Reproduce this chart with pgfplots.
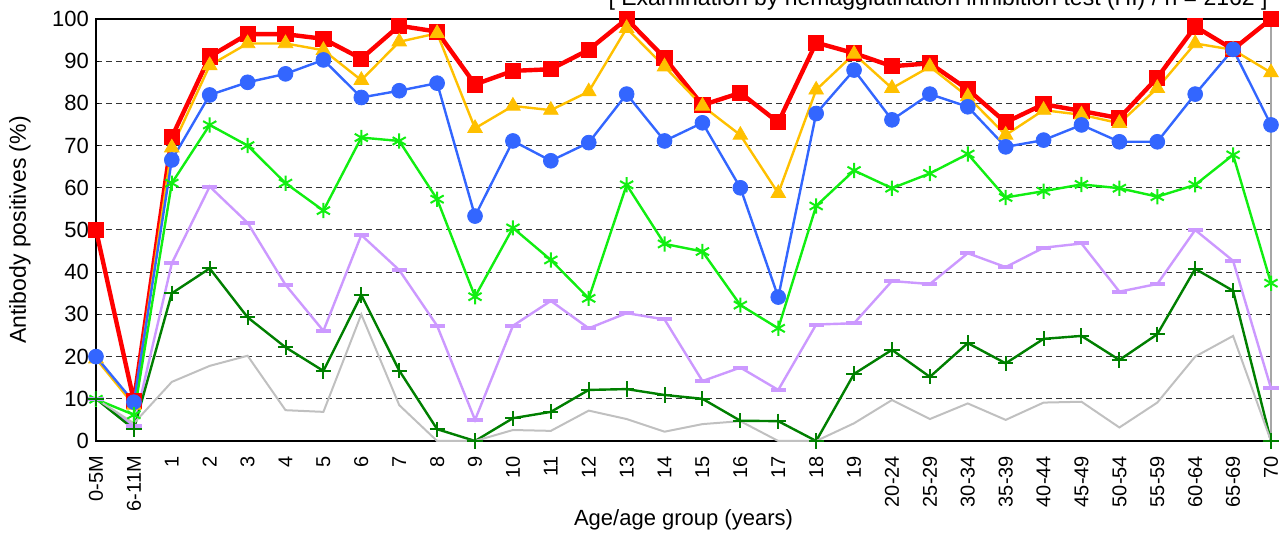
\documentclass[border=0pt]{standalone}
\usepackage{fontspec}
\setmainfont{Liberation Sans}
\usepackage{pgfplots}
\pgfplotsset{compat=1.18}
\definecolor{cRed}{HTML}{FF0000}
\definecolor{cYel}{HTML}{FFC000}
\definecolor{cBlue}{HTML}{3366FF}
\definecolor{cGreen}{HTML}{11EE11}
\definecolor{cLav}{HTML}{CC99FF}
\definecolor{cDark}{HTML}{007F00}
\definecolor{cGrey}{HTML}{C0C0C0}
\begin{document}
\begin{tikzpicture}
\begin{axis}[name=ax, at={(0,0)}, anchor=south west,
  width=587.5pt, height=211pt, scale only axis,
  xmin=0, xmax=31, ymin=0, ymax=100, clip=false,
  xtick={0,...,31},
  xticklabels={0-5M,6-11M,1,2,3,4,5,6,7,8,9,10,11,12,13,14,15,16,17,18,19,20-24,25-29,30-34,35-39,40-44,45-49,50-54,55-59,60-64,65-69,70},
  ytick={0,10,...,100},
  /pgf/number format/assume math mode=true,
  ymajorgrids,
  grid style={black!80, line width=0.5pt, dash pattern=on 3pt off 2pt},
  axis line style={black, line width=0.8pt},
  x tick label style={rotate=90, anchor=east, font=\fontsize{10}{12}\selectfont},
  xticklabel shift=4pt,
  y tick label style={font=\fontsize{11}{13}\selectfont},
  xtick style={draw=none},
  ytick style={black, line width=0.5pt},
  tick align=inside, major tick length=1.5pt,
]
\draw[gray!70, line width=0.8pt] (rel axis cs:1,0) -- (rel axis cs:1,1);
% red
\addplot[cRed, line width=2.2pt, mark=square*, mark size=3.8pt, mark options={solid, line width=0.5pt}] coordinates {
(0,50) (1,9.5) (2,72) (3,91.1) (4,96.4) (5,96.4) (6,95.3) (7,90.6) (8,98.4) (9,97) (10,84.5) (11,87.7) (12,88.1) (13,92.7) (14,100) (15,90.8) (16,79.6) (17,82.5) (18,75.5) (19,94.4) (20,91.9) (21,88.8) (22,89.5) (23,83.3) (24,75.5) (25,79.8) (26,78.2) (27,76.5) (28,86.1) (29,98.2) (30,92.8) (31,100)};
% yellow
\addplot[cYel, line width=1.2pt, mark=triangle*, mark size=4.2pt, mark options={solid, line width=0.4pt}] coordinates {
(0,19.5) (1,8.5) (2,69.5) (3,89) (4,94.2) (5,94.2) (6,92.6) (7,85.5) (8,94.6) (9,96.6) (10,74.1) (11,79.4) (12,78.4) (13,82.8) (14,97.8) (15,88.7) (16,79.4) (17,72.5) (18,58.7) (19,83.2) (20,91.7) (21,83.6) (22,88.7) (23,81.6) (24,72.5) (25,78.4) (26,77.3) (27,75.3) (28,83.6) (29,94.2) (30,92.7) (31,87.3)};
% blue
\addplot[cBlue, line width=1.2pt, mark=*, mark size=3.7pt, mark options={solid, line width=0.4pt}] coordinates {
(0,20) (1,9.2) (2,66.6) (3,82) (4,85) (5,87) (6,90.3) (7,81.4) (8,83) (9,84.8) (10,53.3) (11,71.1) (12,66.4) (13,70.7) (14,82.2) (15,71.1) (16,75.4) (17,60) (18,34.1) (19,77.6) (20,87.9) (21,76.1) (22,82.2) (23,79.2) (24,69.7) (25,71.3) (26,74.9) (27,70.9) (28,70.9) (29,82.2) (30,92.8) (31,74.9)};
% bright green
\addplot[cGreen, line width=1.2pt, mark=asterisk, mark size=3.8pt, mark options={solid, line width=1pt}] coordinates {
(0,9.9) (1,6.2) (2,61.1) (3,74.9) (4,70) (5,61.1) (6,54.6) (7,71.9) (8,71.1) (9,57.3) (10,34.2) (11,50.5) (12,42.9) (13,33.8) (14,60.7) (15,46.7) (16,44.9) (17,32.2) (18,26.7) (19,55.7) (20,64.1) (21,59.9) (22,63.4) (23,68) (24,57.7) (25,59.2) (26,60.8) (27,59.9) (28,57.9) (29,60.7) (30,67.8) (31,37.4)};
% lavender
\addplot[cLav, line width=1.2pt, mark=-, mark size=3.8pt, mark options={solid, line width=2pt}] coordinates {
(0,10) (1,3.5) (2,42.1) (3,60.3) (4,51.7) (5,37) (6,26.1) (7,48.8) (8,40.5) (9,27.3) (10,5) (11,27.3) (12,33.2) (13,26.7) (14,30.3) (15,28.8) (16,14.2) (17,17.4) (18,12.1) (19,27.6) (20,27.9) (21,37.9) (22,37.2) (23,44.5) (24,41.2) (25,45.8) (26,46.8) (27,35.4) (28,37.2) (29,50) (30,42.7) (31,12.5)};
% dark green
\addplot[cDark, line width=1.2pt, mark=+, mark size=3.8pt, mark options={solid, line width=1pt}] coordinates {
(0,10) (1,2.8) (2,35) (3,40.9) (4,29.3) (5,22.2) (6,16.6) (7,34.6) (8,16.7) (9,2.8) (10,0) (11,5.4) (12,6.9) (13,12.1) (14,12.3) (15,10.9) (16,10) (17,4.8) (18,4.7) (19,0) (20,15.9) (21,21.6) (22,15.2) (23,23.2) (24,18.4) (25,24.2) (26,24.9) (27,19.2) (28,25.3) (29,40.8) (30,35.6) (31,0)};
% grey
\addplot[cGrey, line width=1pt, mark=none] coordinates {
(0,10) (1,4.2) (2,14) (3,17.8) (4,20.2) (5,7.3) (6,6.9) (7,30) (8,8.5) (9,0) (10,0) (11,2.6) (12,2.4) (13,7.2) (14,5.2) (15,2.2) (16,4) (17,4.7) (18,0) (19,0) (20,4.2) (21,9.7) (22,5.2) (23,8.9) (24,5) (25,9.1) (26,9.3) (27,3.2) (28,9.1) (29,20) (30,24.9) (31,0)};
\end{axis}
\node[rotate=90, font=\fontsize{11.5}{13}\selectfont] at ([xshift=-38pt]ax.west) {Antibody positives (\%)};
\node[font=\fontsize{11}{13}\selectfont] at ([yshift=-39.5pt]ax.south) {Age/age group (years)};
\node[anchor=base east, inner sep=0pt, font=\fontsize{11.5}{13}\selectfont] at ([shift={(586pt,217.5pt)}]ax.south west) {[ Examination by hemagglutination inhibition test (HI) / n = 2162 ]};
\pgfresetboundingbox
\path[use as bounding box] ([shift={(-48pt,-47pt)}]ax.south west) rectangle ([shift={(593pt,220.5pt)}]ax.south west);
\end{tikzpicture}
\end{document}
